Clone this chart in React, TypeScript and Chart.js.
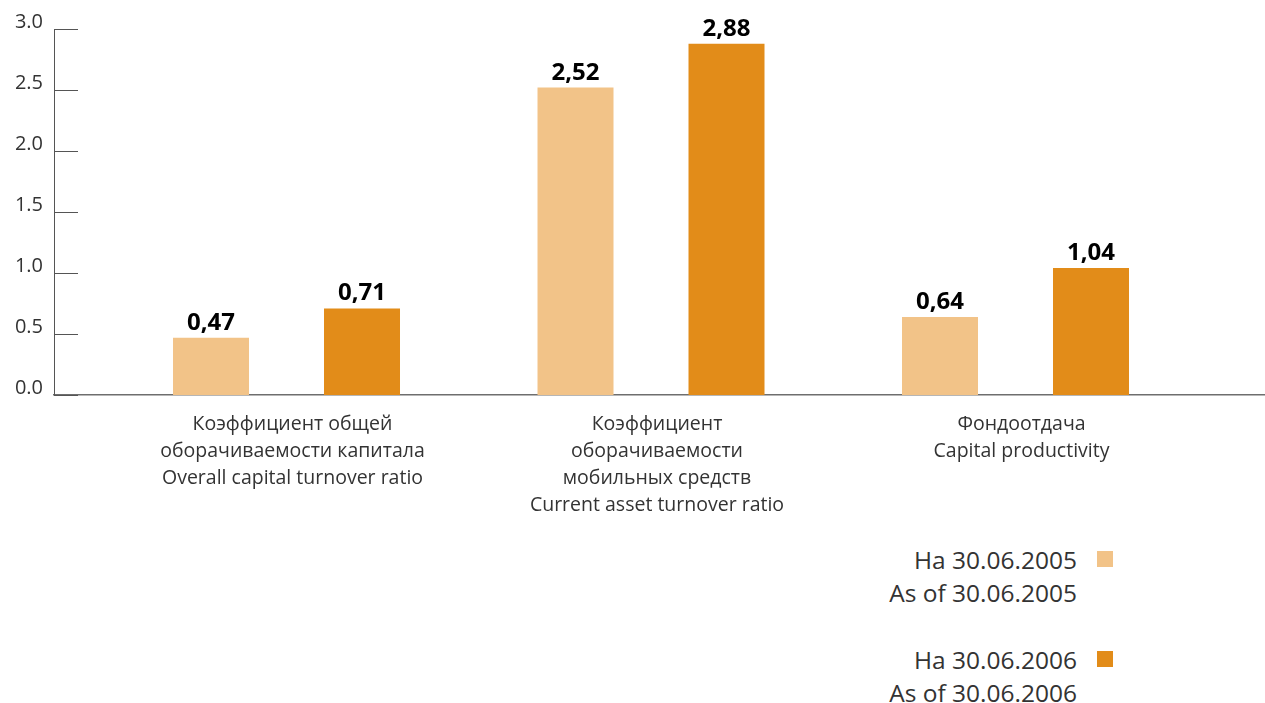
import React, { useEffect, useRef } from "react";
import { Chart, registerables } from "chart.js";

Chart.register(...registerables);

const categories: string[][] = [
  ["Коэффициент общей", "оборачиваемости капитала", "Overall capital turnover ratio"],
  ["Коэффициент", "оборачиваемости", "мобильных средств", "Current asset turnover ratio"],
  ["Фондоотдача", "Capital productivity"],
];
const categoryPositions = [1, 2, 3];
const values2005 = [0.47, 2.52, 0.64];
const values2006 = [0.71, 2.88, 1.04];
const legend2005 = ["На 30.06.2005", "As of 30.06.2005"];
const legend2006 = ["На 30.06.2006", "As of 30.06.2006"];
const yTicks = [0, 0.5, 1.0, 1.5, 2.0, 2.5, 3.0];

const COLOR_2005 = "#F2C388";
const COLOR_2006 = "#E28C19";
const TEXT = "#333333";
const FONT = "'Open Sans', 'Noto Sans', sans-serif";

const innerTicksPlugin = {
  id: "innerTicks",
  afterDraw(chart: any) {
    const ctx = chart.ctx;
    const y = chart.scales.y;
    const left = chart.chartArea.left;
    ctx.save();
    ctx.strokeStyle = "#555555";
    ctx.lineWidth = 1;
    y.ticks.forEach((t: any) => {
      const py = Math.round(y.getPixelForValue(t.value)) + 0.5;
      ctx.beginPath();
      ctx.moveTo(left, py);
      ctx.lineTo(left + 24, py);
      ctx.stroke();
    });
    ctx.restore();
  },
};

const valueLabelsPlugin = {
  id: "valueLabels",
  afterDatasetsDraw(chart: any) {
    const ctx = chart.ctx;
    ctx.save();
    ctx.fillStyle = "#000000";
    ctx.font = `bold 24px ${FONT}`;
    ctx.textAlign = "center";
    ctx.textBaseline = "alphabetic";
    chart.data.datasets.forEach((ds: any, di: number) => {
      const meta = chart.getDatasetMeta(di);
      meta.data.forEach((bar: any, i: number) => {
        const v = ds.data[i].y as number;
        ctx.fillText(v.toFixed(2).replace(".", ","), bar.x, bar.y - 8);
      });
    });
    ctx.restore();
  },
};

export default function App() {
  const canvasRef = useRef<HTMLCanvasElement | null>(null);

  useEffect(() => {
    document.body.style.margin = "0";
    const canvas = canvasRef.current;
    if (!canvas) return;
    const chart = new Chart(canvas, {
      type: "bar",
      data: {
        datasets: [
          {
            label: legend2005.join(" / "),
            data: categoryPositions.map((x, i) => ({ x, y: values2005[i] })),
            backgroundColor: COLOR_2005,
          },
          {
            label: legend2006.join(" / "),
            data: categoryPositions.map((x, i) => ({ x, y: values2006[i] })),
            backgroundColor: COLOR_2006,
          },
        ],
      },
      options: {
        animation: false,
        responsive: true,
        maintainAspectRatio: false,
        layout: { padding: { top: 29, right: 0, left: 0, bottom: 0 } },
        datasets: {
          bar: { categoryPercentage: 0.8285, barPercentage: 0.5033 },
        } as any,
        plugins: {
          legend: { display: false },
          tooltip: { enabled: false },
          title: { display: false },
        },
        scales: {
          x: {
            type: "linear",
            offset: false,
            bounds: "data",
            min: 0.3621,
            max: 3.6845,
            afterBuildTicks(scale: any) {
              scale.ticks = categoryPositions.map((v) => ({ value: v }));
            },
            afterFit(scale: any) {
              scale.height = 125;
            },
            grid: { display: false, drawTicks: false, offset: false },
            border: { display: true, color: "#6e6e6e", width: 1.6 },
            ticks: {
              autoSkip: false,
              maxRotation: 0,
              padding: 16,
              labelOffset: 6,
              color: TEXT,
              font: { family: FONT, size: 19.5, lineHeight: 1.385 },
              callback: (value: any) => {
                const idx = categoryPositions.indexOf(Number(value));
                return idx >= 0 ? categories[idx] : "";
              },
            },
          } as any,
          y: {
            min: 0,
            max: 3,
            afterBuildTicks(scale: any) {
              scale.ticks = yTicks.map((v) => ({ value: v }));
            },
            afterFit(scale: any) {
              scale.width = 54;
            },
            grid: { display: false, drawTicks: false },
            border: { display: true, color: "#555555", width: 1 },
            ticks: {
              padding: 11,
              labelOffset: -6.5,
              color: TEXT,
              font: { family: FONT, size: 20 },
              callback: (value: any) => Number(value).toFixed(1),
            },
          },
        },
      },
      plugins: [innerTicksPlugin, valueLabelsPlugin],
    });
    return () => chart.destroy();
  }, []);

  const legendLine = (text: string, centerY: number) => (
    <div
      key={text}
      style={{
        position: "absolute",
        right: 1265 - 1077,
        top: centerY - 16.5,
        height: 33,
        lineHeight: "33px",
        fontFamily: FONT,
        fontSize: 24.5,
        color: TEXT,
        whiteSpace: "nowrap",
        textAlign: "right",
      }}
    >
      {text}
    </div>
  );

  const square = (color: string, top: number) => (
    <div
      style={{
        position: "absolute",
        left: 1097,
        top,
        width: 16,
        height: 16,
        background: color,
      }}
    />
  );

  return (
    <div style={{ position: "relative", width: 1265, height: 703, overflow: "hidden", background: "#fff" }}>
      <div style={{ position: "absolute", left: 0, top: 0, width: 1265, height: 520 }}>
        <canvas ref={canvasRef} />
      </div>
      {legendLine(legend2005[0], 559)}
      {legendLine(legend2005[1], 592)}
      {square(COLOR_2005, 551)}
      {legendLine(legend2006[0], 659)}
      {legendLine(legend2006[1], 692)}
      {square(COLOR_2006, 651)}
    </div>
  );
}
